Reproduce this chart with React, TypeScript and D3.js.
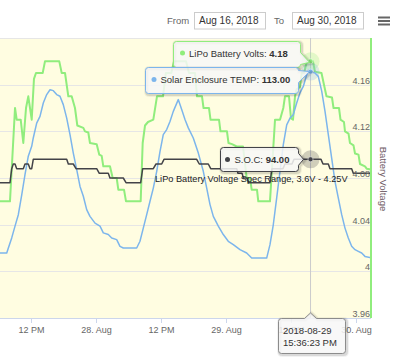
import React from 'react';
import * as d3 from 'd3';

const BASE = Date.UTC(2018, 7, 27);
const toDate = (h: number) => new Date(BASE + h * 3600e3);

// LiPo Battery Volts (hours since 2018-08-27 00:00)
const voltHours = [6.0, 8.12, 9.05, 9.36, 10.1, 10.58, 11.08, 11.5, 12.13, 12.55, 12.92, 14.16, 14.58, 17.22, 17.67, 18.28, 18.89, 19.51, 20.12, 20.55, 21.66, 21.97, 22.58, 22.89, 24.13, 24.61, 25.05, 25.35, 26.58, 27.08, 27.82, 28.12, 29.17, 29.54, 32.25, 32.62, 33.05, 33.6, 34.58, 35.26, 36.37, 36.9, 37.9, 38.4, 40.62, 41.17, 42.28, 42.65, 43.57, 43.85, 44.86, 45.14, 46.71, 46.98, 48.18, 48.46, 49.11, 49.98, 51.14, 51.82, 52.43, 52.74, 53.72, 53.96, 56.12, 57.05, 57.97, 58.58, 58.89, 59.63, 60.0, 60.37, 60.74, 61.05, 61.66, 61.98, 62.4, 62.95, 63.61, 64.06, 64.43, 65.63, 66.09, 66.55, 67.57, 67.85, 68.86, 69.14, 69.78, 69.97, 70.62, 70.89, 71.54, 71.82, 72.46, 72.74, 73.66, 73.97, 75.0];
const voltValues = [4.06, 4.06, 4.14, 4.13, 4.13, 4.11, 4.14, 4.15, 4.13, 4.165, 4.17, 4.17, 4.18, 4.18, 4.17, 4.17, 4.15, 4.15, 4.14, 4.125, 4.123, 4.12, 4.119, 4.11, 4.109, 4.1, 4.099, 4.09, 4.09, 4.08, 4.08, 4.07, 4.07, 4.06, 4.06, 4.11, 4.125, 4.128, 4.13, 4.15, 4.15, 4.17, 4.17, 4.18, 4.18, 4.17, 4.17, 4.15, 4.15, 4.14, 4.14, 4.13, 4.13, 4.12, 4.12, 4.11, 4.109, 4.107, 4.107, 4.08, 4.08, 4.07, 4.07, 4.06, 4.06, 4.13, 4.13, 4.14, 4.15, 4.15, 4.131, 4.13, 4.15, 4.156, 4.158, 4.17, 4.17, 4.18, 4.18, 4.18, 4.171, 4.17, 4.16, 4.15, 4.149, 4.14, 4.14, 4.13, 4.128, 4.12, 4.118, 4.11, 4.108, 4.101, 4.1, 4.092, 4.09, 4.088, 4.087];

// Solar Enclosure TEMP
const tempHours = [6.0, 7.52, 7.82, 8.44, 9.05, 9.66, 10.29, 10.89, 11.5, 12.13, 12.42, 13.05, 13.66, 14.27, 14.9, 15.51, 16.12, 16.74, 17.35, 17.96, 18.59, 19.2, 19.81, 20.44, 21.05, 21.66, 22.28, 22.89, 23.82, 24.74, 25.35, 26.27, 26.9, 27.82, 28.43, 29.04, 31.51, 32.12, 32.73, 33.36, 33.97, 34.58, 35.21, 35.82, 36.42, 37.05, 37.66, 38.27, 39.19, 39.82, 40.43, 41.04, 41.96, 42.89, 43.81, 44.44, 45.05, 45.66, 46.58, 47.5, 48.42, 49.35, 50.58, 51.82, 52.74, 55.51, 56.12, 56.73, 57.36, 57.97, 58.58, 59.21, 59.82, 60.42, 61.05, 61.66, 62.27, 62.9, 63.25, 63.61, 64.43, 65.04, 65.67, 66.28, 66.89, 67.51, 68.12, 68.73, 69.36, 69.97, 70.58, 71.2, 71.82, 72.43, 73.05, 73.66, 75.0];
const tempValues = [48.2, 48.2, 50, 53.6, 57.8, 61.9, 69.0, 76.2, 82.8, 86.3, 89.3, 94.6, 97.0, 101.8, 104.8, 106.5, 106.2, 104.8, 104.2, 101.2, 96.4, 90.5, 83.9, 78.0, 72.0, 68.5, 63.7, 61.3, 58.9, 57.8, 55.4, 54.8, 53.6, 53.0, 50.6, 50.0, 50.0, 52.4, 57.1, 61.9, 66.7, 71.4, 77.4, 84.5, 90.5, 92.3, 95.2, 98.8, 103.0, 99.5, 95.9, 92.9, 89.3, 83.9, 77.4, 71.4, 65.5, 61.3, 57.8, 54.8, 52.4, 51.2, 49.4, 48.2, 46.4, 46.4, 51.2, 58.3, 67.9, 77.4, 86.9, 94.0, 96.4, 97.6, 101.8, 105.4, 107.7, 111.9, 113.5, 113.0, 112.5, 111.3, 106.0, 98.8, 90.5, 82.1, 73.8, 67.9, 61.9, 57.1, 53.6, 50.6, 49.4, 48.8, 48.2, 47.0, 46.4];

// S.O.C.
const socHours = [6.0, 8.12, 8.44, 8.73, 9.05, 9.36, 10.58, 10.89, 11.5, 11.82, 12.13, 12.42, 18.59, 18.89, 19.81, 20.31, 24.13, 24.61, 26.27, 26.58, 29.04, 29.54, 32.25, 32.62, 34.58, 35.08, 36.13, 36.55, 42.59, 43.07, 44.73, 45.18, 49.98, 50.21, 50.95, 51.23, 51.88, 52.15, 56.12, 56.49, 58.52, 58.89, 60.18, 60.55, 65.54, 65.91, 66.89, 67.2, 71.2, 71.5, 75.0];
const socValues = [89, 89, 92, 93, 93, 92, 92, 93, 93, 92, 92, 94, 94, 93, 93, 92, 92, 91, 91, 90, 90, 89, 89, 92, 92, 93, 93, 94, 94, 93, 93, 92, 92, 91, 91, 90, 90, 89, 89, 92, 92, 93, 93, 94, 94, 93, 93, 92, 92, 91, 91];

const voltTicks = [3.96, 4, 4.04, 4.08, 4.12, 4.16];
const xTickHours = [12, 24, 36, 48, 60, 72];
const xTickLabels = ['12 PM', '28. Aug', '12 PM', '29. Aug', '12 PM', '30. Aug'];
const hoverHour = 63.6064;
const hoverVolt = 4.18;
const hoverTemp = 113;
const hoverSoc = 94;

const GREEN = '#90ed7d';
const BLUE = '#7cb5ec';
const DARK = '#434348';
const FONT = '"Liberation Sans", Arial, sans-serif';

function calloutRight(x: number, y: number, w: number, h: number, ax: number, ay: number) {
  const r = 3;
  const py = Math.max(y + r + 6, Math.min(y + h - r - 6, ay));
  return `M${x + r},${y}H${x + w - r}Q${x + w},${y} ${x + w},${y + r}V${py - 6}L${ax},${ay}L${x + w},${py + 6}V${y + h - r}Q${x + w},${y + h} ${x + w - r},${y + h}H${x + r}Q${x},${y + h} ${x},${y + h - r}V${y + r}Q${x},${y} ${x + r},${y}Z`;
}
function calloutTop(x: number, y: number, w: number, h: number, ax: number, ay: number) {
  const r = 3;
  return `M${x + r},${y}H${ax - 6}L${ax},${ay}L${ax + 6},${y}H${x + w - r}Q${x + w},${y} ${x + w},${y + r}V${y + h - r}Q${x + w},${y + h} ${x + w - r},${y + h}H${x + r}Q${x},${y + h} ${x},${y + h - r}V${y + r}Q${x},${y} ${x + r},${y}Z`;
}

function Tip({ d, stroke }: { d: string; stroke: string }) {
  return (
    <g>
      <path d={d} transform="translate(1,1)" fill="none" stroke="#000" strokeOpacity={0.05} strokeWidth={5} />
      <path d={d} transform="translate(1,1)" fill="none" stroke="#000" strokeOpacity={0.1} strokeWidth={3} />
      <path d={d} fill="rgba(247,247,247,0.85)" stroke={stroke} strokeWidth={1} />
    </g>
  );
}

export default function App() {
  const L = 0, R = 371, T = 38, B = 318;
  const x = d3.scaleUtc().domain([toDate(6.277), toDate(74.77)]).range([L, R]);
  const yV = d3.scaleLinear().domain([3.96, 4.2]).range([B, T]);
  const yT = d3.scaleLinear().domain([25, 125]).range([B, T]);
  const yS = d3.scaleLinear().domain([60, 120]).range([B, T]);
  const mk = (hs: number[], vs: number[], ys: d3.ScaleLinear<number, number>) =>
    d3.line<number>().x((_, i) => x(toDate(hs[i]))).y((v) => ys(v))(vs) || '';

  const ax = x(toDate(hoverHour));
  const ayV = yV(hoverVolt);
  const ayT = yT(hoverTemp);
  const ayS = yS(hoverSoc);

  return (
    <svg width={398} height={361} style={{ position: 'absolute', left: 0, top: 0 }} fontFamily={FONT}>
      <rect x={0} y={0} width={398} height={361} fill="#fff" />
      {/* header */}
      <text x={167} y={23.5} fontSize={9.5} fill="#666">From</text>
      <rect x={194.5} y={12.5} width={71} height={16.5} fill="#fff" stroke="#cccccc" />
      <text x={199} y={24} fontSize={10} fill="#333">Aug 16, 2018</text>
      <text x={274} y={23.5} fontSize={9.5} fill="#666">To</text>
      <rect x={292.5} y={12.5} width={71} height={16.5} fill="#fff" stroke="#cccccc" />
      <text x={297} y={24} fontSize={10} fill="#333">Aug 30, 2018</text>
      {[17.5, 21, 24.5].map((yy) => (
        <line key={yy} x1={378} x2={390} y1={yy} y2={yy} stroke="#666" strokeWidth={2} />
      ))}

      {/* plot band */}
      <rect x={L} y={T} width={R - L} height={B - T} fill="#fffde1" />
      <line x1={L} x2={R} y1={T + 0.5} y2={T + 0.5} stroke="#e6e6e6" />
      {voltTicks.map((v) => (
        <line key={v} x1={L} x2={R} y1={Math.round(yV(v)) + 0.5} y2={Math.round(yV(v)) + 0.5} stroke="#e6e6e6" />
      ))}

      {/* crosshair */}
      <line x1={ax} x2={ax} y1={T} y2={B} stroke="#cccccc" strokeWidth={1} />

      <defs>
        <clipPath id="plot">
          <rect x={L} y={T} width={R - L} height={B - T} />
        </clipPath>
      </defs>
      <g clipPath="url(#plot)" fill="none" strokeLinejoin="round" strokeLinecap="round">
        <path d={mk(voltHours, voltValues, yV)} stroke={GREEN} strokeWidth={2} />
        <path d={mk(tempHours, tempValues, yT)} stroke={BLUE} strokeWidth={1.5} />
        <path d={mk(socHours, socValues, yS)} stroke={DARK} strokeWidth={1.5} />
      </g>

      <text x={155} y={181.5} fontSize={9.2} fill="#222">LiPo Battery Voltage Spec Range, 3.6V - 4.25V</text>

      {/* right axis */}
      {voltTicks.map((v) => (
        <text key={v} x={370} y={yV(v) - 1} fontSize={9} fill="#666" textAnchor="end">
          {String(+v.toFixed(2))}
        </text>
      ))}
      <line x1={R} x2={R} y1={T} y2={B} stroke={GREEN} strokeWidth={2} />
      <text transform={`translate(380,${(T + B) / 2 + 1}) rotate(90)`} fontSize={9.5} fill="#6e5a64" textAnchor="middle">
        Battery Voltage
      </text>

      {/* x axis */}
      <line x1={L} x2={R} y1={B + 0.5} y2={B + 0.5} stroke="#ccd6eb" />
      {xTickHours.map((h, i) => {
        const xx = Math.round(x(toDate(h))) + 0.5;
        return (
          <g key={h}>
            <line x1={xx} x2={xx} y1={B} y2={B + 5} stroke="#ccd6eb" />
            <text x={xx} y={333} fontSize={9} fill="#666" textAnchor="middle">{xTickLabels[i]}</text>
          </g>
        );
      })}

      {/* hover markers */}
      <circle cx={ax} cy={ayS} r={9} fill={DARK} fillOpacity={0.25} />
      <circle cx={ax} cy={ayS} r={2.5} fill={DARK} stroke="#fff" strokeWidth={0.5} />
      <circle cx={ax} cy={ayV} r={9} fill={GREEN} fillOpacity={0.25} />
      <circle cx={ax} cy={ayT} r={9} fill={BLUE} fillOpacity={0.25} />
      <circle cx={ax} cy={ayV} r={2.5} fill={GREEN} stroke="#fff" strokeWidth={0.5} />
      <circle cx={ax} cy={ayT} r={2.5} fill={BLUE} stroke="#fff" strokeWidth={0.5} />

      {/* tooltips */}
      <Tip d={calloutRight(173.5, 41.5, 127, 26, ax - 1, ayV + 1)} stroke={GREEN} />
      <circle cx={182.5} cy={53} r={2.5} fill={GREEN} />
      <text x={189} y={56.5} fontSize={9.5} fill="#333">
        LiPo Battery Volts: <tspan fontWeight="bold">4.18</tspan>
      </text>

      <Tip d={calloutRight(145.5, 67.5, 153, 26, ax - 1, ayT)} stroke={BLUE} />
      <circle cx={154} cy={79.5} r={2.5} fill={BLUE} />
      <text x={160.5} y={83} fontSize={9.5} fill="#333">
        Solar Enclosure TEMP: <tspan fontWeight="bold">113.00</tspan>
      </text>

      <Tip d={calloutRight(220.5, 147.5, 78, 24, ax - 7, ayS)} stroke={DARK} />
      <circle cx={227.5} cy={159.5} r={2.5} fill={DARK} />
      <text x={234.5} y={162.5} fontSize={9.5} fill="#333">
        S.O.C: <tspan fontWeight="bold">94.00</tspan>
      </text>

      <Tip d={calloutTop(278.5, 318.5, 67, 35, ax, 313)} stroke="#8c8c8c" />
      <text x={283} y={334} fontSize={9.5} fill="#333">2018-08-29</text>
      <text x={283} y={346} fontSize={9.5} fill="#333">15:36:23 PM</text>
    </svg>
  );
}
